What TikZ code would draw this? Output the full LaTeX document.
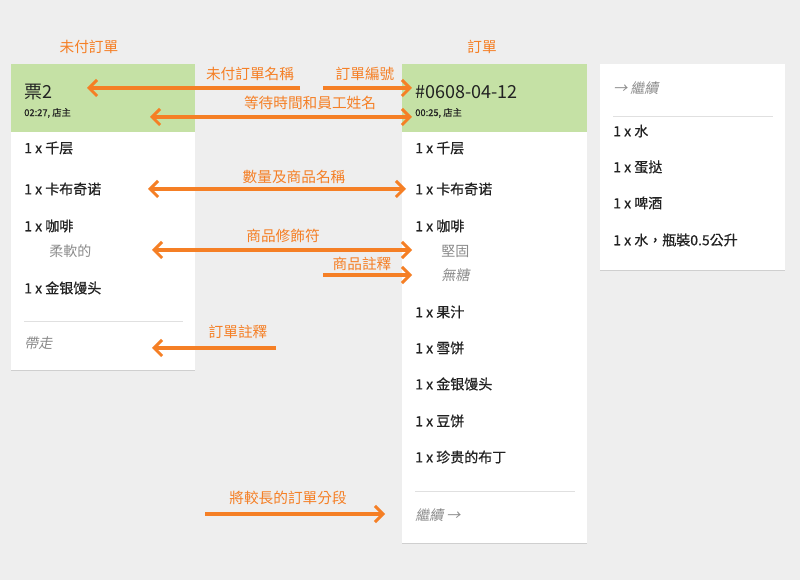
\documentclass[tikz,border=0pt]{standalone}
\usepackage{fontspec}
\setmainfont{Noto Sans CJK TC}
\newfontfamily\slfont{Noto Sans CJK TC}[FakeSlant=0.2]
\newfontfamily\mdfont{Noto Sans CJK TC}[FakeBold=0.6]
\usetikzlibrary{arrows.meta}
\definecolor{bg}{HTML}{EEEEEE}
\definecolor{hdr}{HTML}{C5E1A5}
\definecolor{org}{HTML}{F57F25}
\definecolor{txt}{HTML}{222222}
\definecolor{gry}{HTML}{8A8A8A}
\definecolor{shd}{HTML}{CFCFCF}
\tikzset{
 card/.style={fill=white},
 cardshadow/.style={fill=shd},
 head/.style={fill=hdr},
 item/.style={anchor=west,inner sep=0pt,text=txt,font=\fontsize{10.5}{12}\mdfont},
 sub/.style={anchor=west,inner sep=0pt,text=gry,font=\fontsize{10.5}{12}\selectfont},
 note/.style={anchor=west,inner sep=0pt,text=gry,font=\fontsize{10.5}{12}\slfont},
 title/.style={anchor=west,inner sep=0pt,text=txt,font=\fontsize{13.5}{15}\selectfont},
 meta/.style={anchor=west,inner sep=0pt,text=txt,font=\fontsize{7}{8}\mdfont},
 lbl/.style={inner sep=0pt,text=org,font=\fontsize{11}{12}\selectfont},
 arr/.style={draw=org,line width=2.5pt,-{Straight Barb[length=6pt,width=12pt,line width=2.2pt]}},
 darr/.style={draw=org,line width=2.5pt,{Straight Barb[length=6pt,width=12pt,line width=2.2pt]}-{Straight Barb[length=6pt,width=12pt,line width=2.2pt]}},
 sep/.style={draw=black!12,line width=0.6pt}
}
\begin{document}
\begin{tikzpicture}[x=0.75pt,y=-0.75pt]
\fill[bg] (0,0) rectangle (800,580);
\useasboundingbox (0,0) rectangle (800,580);
% cards
\fill[cardshadow] (11,65) rectangle (195,371);
\fill[card] (11,64) rectangle (195,370);
\fill[head] (11,64) rectangle (195,132);
\fill[cardshadow] (402,65) rectangle (587,544);
\fill[card] (402,64) rectangle (587,543);
\fill[head] (402,64) rectangle (587,132);
\fill[cardshadow] (600,65) rectangle (785,271);
\fill[card] (600,64) rectangle (785,270);
% card 1
\node[title] (t1) at (24,92) {票2};
\node[meta] (m1) at (24,113) {02:27, 店主};
\node[item] (a1) at (24,148) {1 x 千层};
\node[item] (a2) at (24,189) {1 x 卡布奇诺};
\node[item] (a3) at (24,226) {1 x 咖啡};
\node[sub] (a3s) at (49,251) {柔軟的};
\node[item] (a4) at (24,288) {1 x 金银馒头};
\draw[sep] (24,321) -- (183,321);
\node[note] (a5) at (24,343) {帶走};
% card 2
\node[title] (t2) at (415,92) {\#0608-04-12};
\node[meta] (m2) at (415,113) {00:25, 店主};
\node[item] (b1) at (415,148) {1 x 千层};
\node[item] (b2) at (415,189) {1 x 卡布奇诺};
\node[item] (b3) at (415,226) {1 x 咖啡};
\node[sub] (b3s) at (441,251) {堅固};
\node[note] (b3n) at (441,275) {無糖};
\node[item] (b4) at (415,312) {1 x 果汁};
\node[item] (b5) at (415,348) {1 x 雪饼};
\node[item] (b6) at (415,384) {1 x 金银馒头};
\node[item] (b7) at (415,421) {1 x 豆饼};
\node[item] (b8) at (415,457) {1 x 珍贵的布丁};
\draw[sep] (415,491) -- (575,491);
\node[note] (b9) at (415,515) {繼續 →};
% card 3
\node[note] (c0) at (613,88) {→ 繼續};
\draw[sep] (613,116) -- (773,116);
\node[item] (c1) at (613,131) {1 x 水};
\node[item] (c2) at (613,167) {1 x 蛋挞};
\node[item] (c3) at (613,203) {1 x 啤酒};
\node[item] (c4) at (613,240) {1 x 水，瓶裝0.5公升};
% labels
\node[lbl] (h1) at (89,47) {未付訂單};
\node[lbl] (h2) at (482,47) {訂單};
\node[lbl] (l1) at (250,74) {未付訂單名稱};
\node[lbl] (l2) at (365,74) {訂單編號};
\node[lbl] (l3) at (310,103) {等待時間和員工姓名};
\node[lbl] (l4) at (294,177) {數量及商品名稱};
\node[lbl] (l5) at (283,236) {商品修飾符};
\node[lbl] (l6) at (362,264) {商品註釋};
\node[lbl] (l7) at (238,332) {訂單註釋};
\node[lbl] (l8) at (288,498) {將較長的訂單分段};
% arrows
\coordinate (p1) at (300,88); \coordinate (q1) at (87,88);
\coordinate (p2) at (323,88); \coordinate (q2) at (412,88);
\coordinate (p3) at (150,117); \coordinate (q3) at (412,117);
\coordinate (p4) at (148,189); \coordinate (q4) at (406,189);
\coordinate (p5) at (152,250); \coordinate (q5) at (412,250);
\coordinate (p6) at (323,275); \coordinate (q6) at (412,275);
\coordinate (p7) at (276,348); \coordinate (q7) at (152,348);
\coordinate (p8) at (205,514); \coordinate (q8) at (385,514);
\draw[arr] (p1) -- (q1);
\draw[arr] (p2) -- (q2);
\draw[darr] (p3) -- (q3);
\draw[darr] (p4) -- (q4);
\draw[darr] (p5) -- (q5);
\draw[arr] (p6) -- (q6);
\draw[arr] (p7) -- (q7);
\draw[arr] (p8) -- (q8);
\end{tikzpicture}
\end{document}
